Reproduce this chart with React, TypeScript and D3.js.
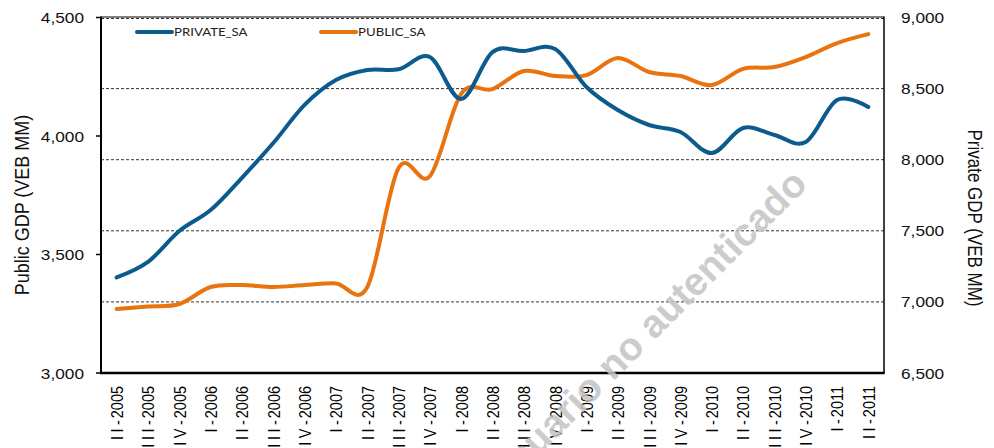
import React from "react";
import * as d3 from "d3";

const categories = [
  "II-2005", "III-2005", "IV-2005", "I-2006", "II-2006", "III-2006", "IV-2006",
  "I-2007", "II-2007", "III-2007", "IV-2007", "I-2008", "II-2008", "III-2008",
  "IV-2008", "I-2009", "II-2009", "III-2009", "IV-2009", "I-2010", "II-2010",
  "III-2010", "IV-2010", "I-2011", "II-2011",
];

// Private GDP (right axis, VEB MM)
const privateSA = [
  7172, 7281, 7499, 7646, 7873, 8117, 8385, 8560, 8631, 8636, 8722, 8427, 8757,
  8764, 8778, 8511, 8349, 8244, 8195, 8047, 8223, 8174, 8124, 8420, 8371,
];

// Public GDP (left axis, VEB MM)
const publicSA = [
  3270, 3281, 3291, 3363, 3371, 3363, 3371, 3378, 3362, 3865, 3830, 4178, 4198,
  4274, 4253, 4257, 4329, 4270, 4253, 4215, 4283, 4291, 4333, 4392, 4430,
];

const leftTicks = [3000, 3500, 4000, 4500];
const rightTicks = [6500, 7000, 7500, 8000, 8500, 9000];
const gridTicks = [7000, 7500, 8000, 8500, 9000];

const legendItems = [
  { label: "PRIVATE_SA", color: "#0B5B8E" },
  { label: "PUBLIC_SA", color: "#E8730F" },
];

const W = 994;
const H = 448;
const plot = { left: 101, right: 884, top: 17.5, bottom: 373 };
const SX = 1.15;
const fmt = d3.format(",");

function splitLabel(c: string) {
  const i = c.indexOf("-");
  return { roman: c.slice(0, i), year: c.slice(i + 1) };
}

export default function App() {
  const x = d3.scaleBand<string>().domain(categories).range([plot.left, plot.right]);
  const cx = (c: string) => (x(c) as number) + x.bandwidth() / 2;
  const yL = d3.scaleLinear().domain([3000, 4500]).range([plot.bottom, plot.top]);
  const yR = d3.scaleLinear().domain([6500, 9000]).range([plot.bottom, plot.top]);

  const linePriv = d3
    .line<number>()
    .x((_, i) => cx(categories[i]))
    .y((d) => yR(d))
    .curve(d3.curveCardinal.tension(0));
  const linePub = d3
    .line<number>()
    .x((_, i) => cx(categories[i]))
    .y((d) => yL(d))
    .curve(d3.curveCardinal.tension(0));

  const font = "'Liberation Sans', Arial, sans-serif";

  return (
    <svg
      width={W}
      height={H}
      style={{ position: "absolute", left: 0, top: 0, background: "#fff" }}
      fontFamily={font}
    >
      <rect x={0} y={0} width={W} height={H} fill="#fff" />
      {/* gridlines */}
      {gridTicks.map((t) => (
        <line
          key={t}
          x1={plot.left}
          x2={plot.right}
          y1={yR(t) + (t === 9000 ? 1 : 0)}
          y2={yR(t) + (t === 9000 ? 1 : 0)}
          stroke="#333"
          strokeWidth={1}
          strokeDasharray="3,2"
        />
      ))}
      {/* frame */}
      <line x1={plot.left} x2={plot.right} y1={plot.top - 0.5} y2={plot.top - 0.5} stroke="#000" strokeWidth={1} />
      <line x1={plot.right} x2={plot.right} y1={plot.top - 1} y2={plot.bottom} stroke="#000" strokeWidth={1.5} />
      <line x1={plot.left} x2={plot.left} y1={plot.top - 1} y2={plot.bottom + 1} stroke="#000" strokeWidth={2} />
      <line x1={plot.left - 1} x2={plot.right + 0.75} y1={plot.bottom} y2={plot.bottom} stroke="#000" strokeWidth={2.5} />

      {/* left ticks */}
      {leftTicks.map((t) => (
        <g key={t}>
          <line x1={plot.left - 5} x2={plot.left} y1={yL(t)} y2={yL(t)} stroke="#000" strokeWidth={1.5} />
          <text
            transform={`translate(84,${yL(t)}) scale(${SX},1)`}
            textAnchor="end"
            dominantBaseline="central"
            fontSize={15}
            fill="#111"
          >
            {fmt(t)}
          </text>
        </g>
      ))}
      {/* right ticks */}
      {rightTicks.map((t) => (
        <text
          key={t}
          transform={`translate(901,${yR(t)}) scale(${SX},1)`}
          textAnchor="start"
          dominantBaseline="central"
          fontSize={15}
          fill="#111"
        >
          {fmt(t)}
        </text>
      ))}

      {/* axis titles */}
      <text
        transform={`translate(22,205) scale(${SX},1) rotate(-90)`}
        textAnchor="middle"
        dominantBaseline="central"
        fontSize={18}
        fill="#111"
      >
        Public GDP (VEB MM)
      </text>
      <text
        transform={`translate(975,218) scale(${SX},1) rotate(90)`}
        textAnchor="middle"
        dominantBaseline="central"
        fontSize={17}
        fill="#111"
      >
        Private GDP (VEB MM)
      </text>

      {/* x labels */}
      {categories.map((c) => {
        const { roman, year } = splitLabel(c);
        return (
          <text
            key={c}
            transform={`translate(${cx(c)},386) scale(${SX},1) rotate(-90)`}
            textAnchor="end"
            dominantBaseline="central"
            fontSize={14.5}
            fill="#000"
          >
            <tspan letterSpacing={3.5}>{roman}</tspan>
            <tspan letterSpacing={2}>-</tspan>
            <tspan>{year}</tspan>
          </text>
        );
      })}

      {/* lines */}
      <path d={linePub(publicSA) || ""} fill="none" stroke={legendItems[1].color} strokeWidth={4} strokeLinejoin="round" strokeLinecap="round" />
      <path d={linePriv(privateSA) || ""} fill="none" stroke={legendItems[0].color} strokeWidth={4} strokeLinejoin="round" strokeLinecap="round" />

      {/* legend */}
      {legendItems.map((it, i) => {
        const x0 = 137 + i * 184;
        return (
          <g key={it.label}>
            <line x1={x0} x2={x0 + 35} y1={32} y2={32} stroke={it.color} strokeWidth={4} strokeLinecap="round" />
            <text
              transform={`translate(${x0 + 37},32) scale(${SX},1)`}
              dominantBaseline="central"
              fontSize={11.5}
              fontFamily="Lato, 'Open Sans', sans-serif"
              fill="#222"
            >
              {it.label}
            </text>
          </g>
        );
      })}

      {/* watermark */}
      <text
        transform="translate(809,186) rotate(-45)"
        textAnchor="end"
        fontSize={39}
        fontWeight="bold"
        fill="#c4c4c4"
        opacity={0.85}
      >
        Usuario no autenticado
      </text>
    </svg>
  );
}
